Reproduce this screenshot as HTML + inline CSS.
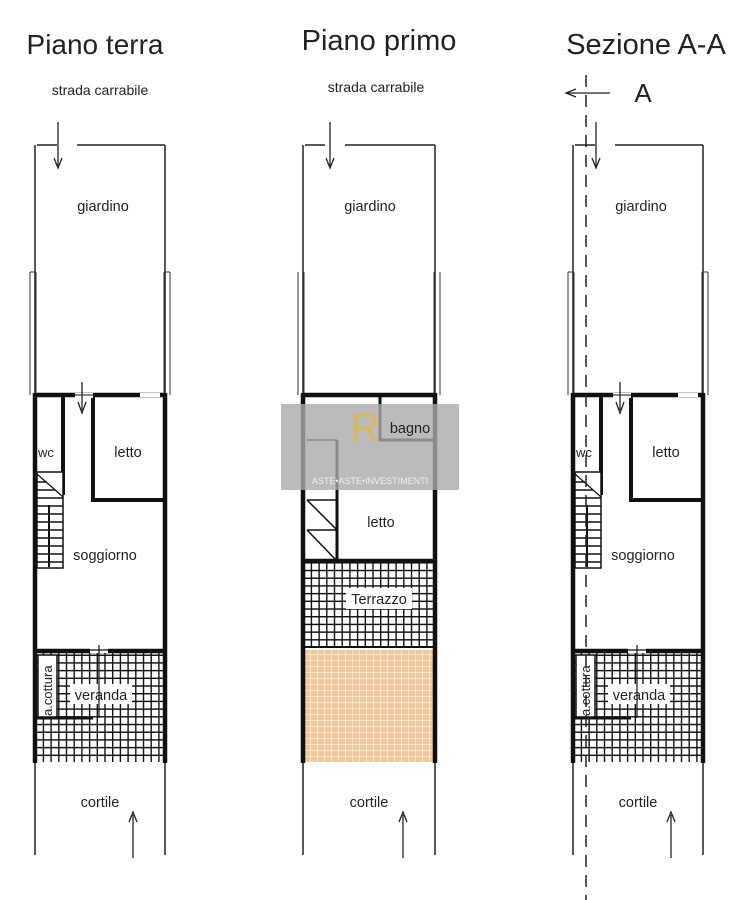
<!DOCTYPE html>
<html><head><style>body{margin:0;background:#fff}svg{display:block}text{font-family:"Liberation Sans",sans-serif;fill:#222}</style></head>
<body>
<svg width="750" height="900" viewBox="0 0 750 900" xmlns="http://www.w3.org/2000/svg">
<defs>
<pattern id="grid" width="7.7" height="7.7" patternUnits="userSpaceOnUse">
<rect width="7.7" height="7.7" fill="#fff"/><path d="M0 0H7.7M0 0V7.7" stroke="#111" stroke-width="2.8"/></pattern>
<pattern id="tile" width="7" height="6" patternUnits="userSpaceOnUse">
<rect width="7" height="6" fill="#f0c89a"/><path d="M0 0H7M0 0V6" stroke="#fff" stroke-width="1"/></pattern>
<g id="plan">
<path d="M0 145V395M130 145V395M2 145H22M42 145H130" stroke="#222" stroke-width="1.5" fill="none"/>
<path d="M-5 272V395M1 272V395M129 272V395M135 272V395M-5 272H1M129 272H135" stroke="#333" stroke-width="1" fill="none"/>
<path d="M23 122V166" stroke="#222" stroke-width="1.3"/><path d="M19 158L23 168L27 158" stroke="#222" fill="none" stroke-width="1.3"/>
<text x="68" y="211" font-size="14.5" text-anchor="middle">giardino</text>
<rect x="2" y="652" width="128" height="110" fill="url(#grid)"/>
<rect x="3" y="655" width="19" height="62" fill="#fff" stroke="#111" stroke-width="1.5"/>
<path d="M0 718H58" stroke="#111" stroke-width="3"/>
<rect x="35" y="684" width="62" height="20" fill="#fff"/>
<text x="66" y="700" font-size="14.5" text-anchor="middle">veranda</text>
<text transform="translate(17,716) rotate(-90)" font-size="13">a.cottura</text>
<path d="M0 393V763M130 393V763M0 395H130M0 651H130" stroke="#111" stroke-width="4.5" fill="none"/>
<path d="M28 395V495M58 395V500H130" stroke="#111" stroke-width="4" fill="none"/>
<rect x="40" y="393" width="18" height="5" fill="#fff"/><path d="M40 395H58" stroke="#111" stroke-width="1"/>
<rect x="105" y="393" width="20" height="4" fill="#fff"/>
<path d="M47 382V410M43 402L47 413L51 402" stroke="#222" stroke-width="1.3" fill="none"/>
<rect x="55" y="648" width="18" height="5" fill="#fff"/><path d="M55 650H73M64 645V718" stroke="#111" stroke-width="1.2"/>
<rect x="2" y="472" width="26" height="96" fill="#fff" stroke="#111" stroke-width="1.5"/>
<path d="M2 474L28 497" stroke="#111" stroke-width="1.2"/>
<path d="M2 482H12M2 490H20M2 498H28M2 506H28M2 514H28M2 522H28M2 530H28M2 538H28M2 546H28M2 554H28M2 562H28" stroke="#111" stroke-width="1.5"/>
<path d="M14 505V567" stroke="#111" stroke-width="2"/>
<text x="3" y="457" font-size="13">wc</text>
<text x="93" y="457" font-size="14.5" text-anchor="middle">letto</text>
<text x="70" y="560" font-size="14.5" text-anchor="middle">soggiorno</text>
<path d="M0 763V855M130 763V855" stroke="#222" stroke-width="1.5"/>
<path d="M98 815V858M94 822L98 812L102 822" stroke="#222" stroke-width="1.3" fill="none"/>
<text x="65" y="807" font-size="14.5" text-anchor="middle">cortile</text>
</g>
</defs>

<text x="95" y="54" font-size="28" text-anchor="middle">Piano terra</text>
<text x="100" y="95" font-size="14" text-anchor="middle">strada carrabile</text>
<use href="#plan" x="35"/>

<text x="379" y="50" font-size="29" text-anchor="middle">Piano primo</text>
<text x="376" y="92" font-size="14" text-anchor="middle">strada carrabile</text>
<g transform="translate(303,0)">
<path d="M0 145V395M132 145V395M2 145H22M42 145H132" stroke="#222" stroke-width="1.5" fill="none"/>
<path d="M-5 272V395M1 272V395M131 272V395M137 272V395" stroke="#333" stroke-width="1" fill="none"/>
<path d="M27 122V166M23 158L27 168L31 158" stroke="#222" stroke-width="1.3" fill="none"/>
<text x="67" y="211" font-size="14.5" text-anchor="middle">giardino</text>
<rect x="2" y="562" width="130" height="84" fill="url(#grid)"/>
<rect x="2" y="650" width="130" height="112" fill="url(#tile)"/>
<rect x="43" y="588" width="66" height="21" fill="#fff"/>
<text x="76" y="604" font-size="14.5" text-anchor="middle">Terrazzo</text>
<path d="M0 393V763M132 393V763M0 395H132M0 561H132" stroke="#111" stroke-width="4.5" fill="none"/>
<path d="M0 647H132" stroke="#111" stroke-width="2"/>
<path d="M77 395V440H132M34 440V561" stroke="#111" stroke-width="3" fill="none"/>
<path d="M4 440H34M4 500H34M4 530H34M4 500L34 530M4 530L34 561" stroke="#111" stroke-width="1.5" fill="none"/>
<text x="78" y="527" font-size="14.5" text-anchor="middle">letto</text>
<path d="M0 763V855M132 763V855" stroke="#222" stroke-width="1.5"/>
<path d="M100 815V858M96 822L100 812L104 822" stroke="#222" stroke-width="1.3" fill="none"/>
<text x="66" y="807" font-size="14.5" text-anchor="middle">cortile</text>
</g>
<rect x="281" y="404" width="178" height="86" fill="#aaa" opacity="0.8"/>
<text x="410" y="433" font-size="14.5" text-anchor="middle">bagno</text>
<text x="365" y="441" font-size="40" style="fill:#d9b85a" text-anchor="middle" font-family="Liberation Serif">R</text>
<text x="370" y="484" font-size="9" style="fill:#eee" text-anchor="middle" font-family="Liberation Serif">ASTE•ASTE•INVESTIMENTI</text>

<text x="646" y="54" font-size="29" text-anchor="middle">Sezione A-A</text>
<path d="M567 93H610M576 89L566 93L576 97" stroke="#222" stroke-width="1.3" fill="none"/>
<text x="643" y="102" font-size="26" text-anchor="middle">A</text>
<use href="#plan" x="573"/>
<path d="M586 75V900" stroke="#222" stroke-width="1.5" stroke-dasharray="12,8"/>
</svg>
</body></html>
